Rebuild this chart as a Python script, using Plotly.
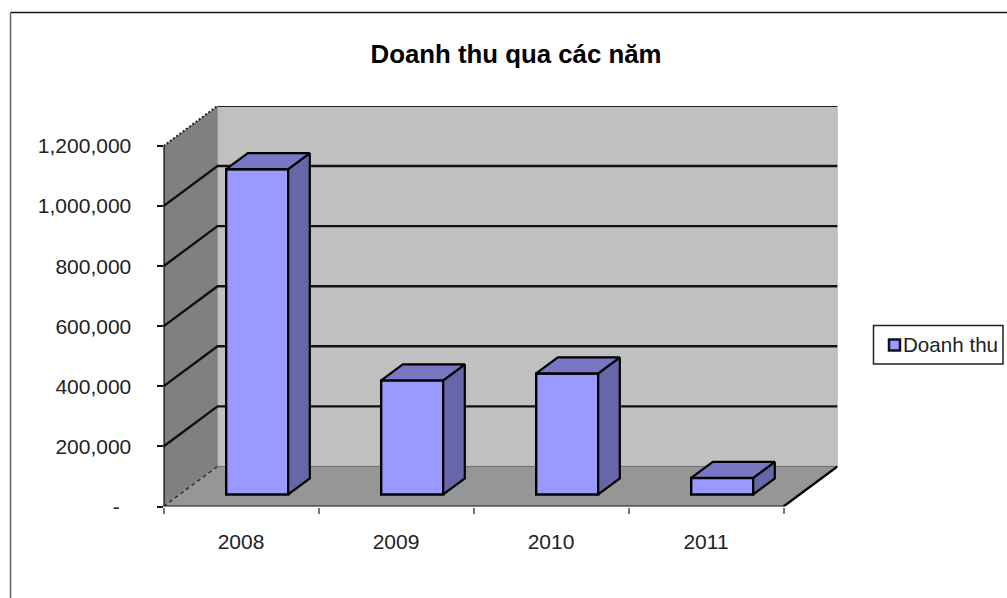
import plotly.graph_objects as go

# ---- data ----
years = ["2008", "2009", "2010", "2011"]
revenue = [1083000, 380000, 403000, 55000]
series_name = "Doanh thu"
y_ticks = [0, 200000, 400000, 600000, 800000, 1000000, 1200000]
y_labels = ["-\u00a0\u00a0", "200,000", "400,000", "600,000", "800,000", "1,000,000", "1,200,000"]
title_text = "Doanh thu qua các năm"

# ---- pseudo-3D projection settings (axis units) ----
W, H = 1007, 598
N = len(years)
DX = 54 / 155        # horizontal shift of full chart depth
DY = 400000 / 3      # vertical shift of full chart depth
Y_TOP = y_ticks[-1]
BAR_W = 0.4
D0, D1 = 0.3, 0.7    # bar position inside the depth

INK = "#000000"
WALL = "#C0C0C0"
SIDE_WALL = "#808080"
FLOOR = "#969696"
FRONT = "#9999FF"
TOP = "#7777C4"
SIDE = "#6666A8"
FONT = "Liberation Sans, Arial, sans-serif"


def poly(points):
    return "M" + " L".join(f"{x},{y}" for x, y in points) + " Z"


def line(points):
    return "M" + " L".join(f"{x},{y}" for x, y in points)


shapes = []
# back wall, side wall, floor
shapes.append(dict(type="path", path=poly([(DX, DY), (N + DX, DY), (N + DX, Y_TOP + DY), (DX, Y_TOP + DY)]),
                   fillcolor=WALL, line=dict(color="#A8A8A8", width=1), layer="below"))
shapes.append(dict(type="path", path=poly([(0, 0), (DX, DY), (DX, Y_TOP + DY), (0, Y_TOP)]),
                   fillcolor=SIDE_WALL, line=dict(width=0), layer="below"))
shapes.append(dict(type="path", path=poly([(0, 0), (N, 0), (N + DX, DY), (DX, DY)]),
                   fillcolor=FLOOR, line=dict(width=0), layer="below"))
# gridlines
for v in y_ticks[1:-1]:
    shapes.append(dict(type="path", path=line([(0, v), (DX, v + DY), (N + DX, v + DY)]),
                       line=dict(color="#111111", width=2.4), layer="below"))
# top edges and floor edges
shapes.append(dict(type="path", path=line([(DX, Y_TOP + DY), (N + DX, Y_TOP + DY)]),
                   line=dict(color="#222222", width=2.2), layer="below"))
shapes.append(dict(type="path", path=line([(0, Y_TOP), (DX, Y_TOP + DY)]),
                   line=dict(color="#222222", width=2, dash="2px,2px"), layer="below"))
shapes.append(dict(type="path", path=line([(0, 0), (DX, DY)]),
                   line=dict(color="#333333", width=1.5, dash="4px,3px"), layer="below"))
shapes.append(dict(type="path", path=line([(DX, DY), (N + DX, DY)]),
                   line=dict(color="#707070", width=1), layer="below"))
shapes.append(dict(type="path", path=line([(N, 0), (N + DX, DY)]),
                   line=dict(color=INK, width=2.4), layer="below"))
# axis lines
shapes.append(dict(type="path", path=line([(0, 0), (0, Y_TOP)]), line=dict(color=INK, width=2.2), layer="below"))
shapes.append(dict(type="path", path=line([(0, 0), (N, 0)]), line=dict(color="#222222", width=2.2), layer="below"))
for s in shapes:
    s.update(xref="x", yref="y")

# chart-area border (top and left edges visible)
shapes.append(dict(type="line", xref="paper", yref="paper", x0=10.5 / W, x1=1, y0=1 - 12.5 / H, y1=1 - 12.5 / H,
                   line=dict(color="#111111", width=1.5)))
shapes.append(dict(type="line", xref="paper", yref="paper", x0=10.5 / W, x1=10.5 / W, y0=0, y1=1 - 12.5 / H,
                   line=dict(color="#666666", width=1.5)))
# legend box and swatch
shapes.append(dict(type="rect", xref="paper", yref="paper", x0=873.5 / W, x1=1003 / W,
                   y0=1 - 364 / H, y1=1 - 325.5 / H, fillcolor="white",
                   line=dict(color="#222222", width=1.5), layer="above"))
shapes.append(dict(type="rect", xref="paper", yref="paper", x0=889 / W, x1=900 / W,
                   y0=1 - 350.5 / H, y1=1 - 339.5 / H, fillcolor=FRONT,
                   line=dict(color="#111122", width=2.5), layer="above"))

fig = go.Figure()
centers = [i + 0.5 for i in range(N)]

# front faces: real bars
fig.add_trace(go.Bar(
    x=[c + D0 * DX for c in centers], y=revenue, base=D0 * DY, width=BAR_W, name=series_name,
    marker=dict(color=FRONT, line=dict(color=INK, width=2.4)), showlegend=False, hoverinfo="skip",
))

# side and top faces
for c, v in zip(centers, revenue):
    xl = c - BAR_W / 2 + D0 * DX
    xr = c + BAR_W / 2 + D0 * DX
    yb = D0 * DY
    yt = yb + v
    ddx = (D1 - D0) * DX
    ddy = (D1 - D0) * DY
    side_x = [xr, xr + ddx, xr + ddx, xr, xr]
    side_y = [yb, yb + ddy, yt + ddy, yt, yb]
    top_x = [xl, xl + ddx, xr + ddx, xr, xl]
    top_y = [yt, yt + ddy, yt + ddy, yt, yt]
    for px, py, col in ((side_x, side_y, SIDE), (top_x, top_y, TOP)):
        fig.add_trace(go.Scatter(x=px, y=py, mode="lines", fill="toself", fillcolor=col,
                                 line=dict(color=INK, width=2.2), showlegend=False, hoverinfo="skip"))

fig.update_layout(
    width=W, height=H, autosize=False,
    margin=dict(l=0, r=0, t=0, b=0),
    paper_bgcolor="white", plot_bgcolor="rgba(0,0,0,0)",
    font=dict(family=FONT, size=21, color="#222222"),
    title=dict(text=title_text, x=516 / W, y=1 - 54 / H, xref="paper", yref="paper",
               xanchor="center", yanchor="middle",
               font=dict(family=FONT, size=25.8, color="#000000", weight="bold")),
    shapes=shapes,
    showlegend=False,
    annotations=[dict(text=series_name, xref="paper", yref="paper", x=902.5 / W, y=1 - 344.5 / H,
                      xanchor="left", yanchor="middle", showarrow=False, borderpad=0, borderwidth=0,
                      font=dict(family=FONT, size=20.6, color="#222222"))],
    xaxis=dict(domain=[163.5 / W, (163.5 + 155 * (N + DX)) / W], range=[0, N + DX],
               tickmode="array", tickvals=centers, ticktext=years, ticks="",
               showgrid=False, zeroline=False, showline=False, ticklabelstandoff=20,
               minor=dict(tickmode="array", tickvals=list(range(N + 1)), ticks="outside", ticklen=6,
                          tickcolor="#777777", tickwidth=2, showgrid=False),
               fixedrange=True, automargin=False),
    yaxis=dict(domain=[1 - 506.5 / H, 1 - 106 / H], range=[0, Y_TOP + DY],
               tickmode="array", tickvals=y_ticks, ticktext=y_labels, ticks="outside", ticklen=6,
               tickcolor="#111111", tickwidth=2, showgrid=False, zeroline=False, showline=False,
               ticklabelstandoff=21, fixedrange=True, automargin=False),
)

fig.write_html("out.html", post_script="document.body.style.margin='0';", config=dict(displayModeBar=False))
